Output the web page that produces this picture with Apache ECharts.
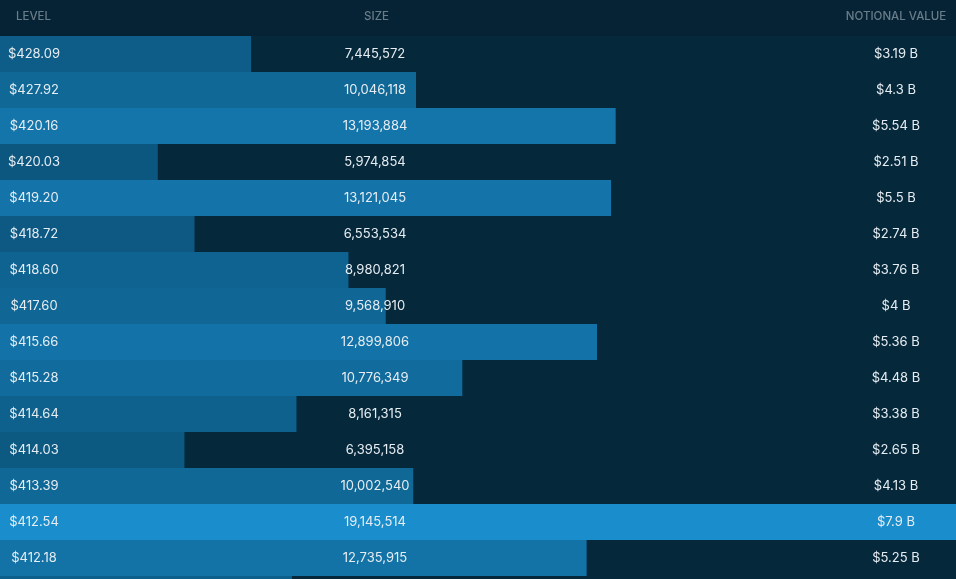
<!DOCTYPE html>
<html>
<head>
<meta charset="utf-8">
<script src="https://cdn.jsdelivr.net/npm/echarts@6/dist/echarts.min.js"></script>
<style>
html,body{margin:0;padding:0;background:#06283b;}
#chart{width:956px;height:579px;}
</style>
</head>
<body>
<div id="chart"></div>
<script>
// ---- data ----
const headers = ['LEVEL', 'SIZE', 'NOTIONAL VALUE'];
const levels = [428.09, 427.92, 420.16, 420.03, 419.20, 418.72, 418.60, 417.60, 415.66, 415.28, 414.64, 414.03, 413.39, 412.54, 412.18, null];
const sizes = [7445572, 10046118, 13193884, 5974854, 13121045, 6553534, 8980821, 9568910, 12899806, 10776349, 8161315, 6395158, 10002540, 19145514, 12735915, 8090000];
const notionalB = [3.19, 4.3, 5.54, 2.51, 5.5, 2.74, 3.76, 4, 5.36, 4.48, 3.38, 2.65, 4.13, 7.9, 5.25, null];

// ---- chart ----
const xMin = 3487000, xMax = 18560000;
const chart = echarts.init(document.getElementById('chart'), null, {renderer: 'canvas'});
const cats = levels.map((l, i) => String(i));
const barData = sizes.map((s, i) => [s, i]);
const textData = sizes.map((s, i) => [xMin, i]);
const FONT = 'Inter, "Noto Sans", sans-serif';
const fmtLevel = v => v == null ? '' : '$' + v.toFixed(2);
const fmtSize = (v, i) => levels[i] == null ? '' : v.toLocaleString('en-US');
const fmtNot = v => v == null ? '' : '$' + v + ' B';
const colX = [34, 375, 896];

chart.setOption({
  animation: false,
  backgroundColor: '#06283b',
  grid: {left: 0, right: 0, top: 36, height: 36 * sizes.length, containLabel: false, outerBoundsMode: 'none'},
  xAxis: {type: 'value', min: xMin, max: xMax, show: false},
  yAxis: {type: 'category', data: cats, inverse: true, show: false},
  visualMap: {
    type: 'continuous', show: false, dimension: 0, seriesIndex: 0,
    min: 5974854, max: 19145514,
    inRange: {color: ['#0c5780', '#1a8dcc']}
  },
  graphic: [
    {type: 'rect', left: 0, top: 0, z: 0, shape: {width: 956, height: 36}, style: {fill: '#052335'}},
    {type: 'text', x: colX[0] - 0.5, y: 17, z: 10, style: {text: headers[0], align: 'center', verticalAlign: 'middle', fill: '#6b7c89', font: '500 11.5px ' + FONT}},
    {type: 'text', x: colX[1] + 1.5, y: 17, z: 10, style: {text: headers[1], align: 'center', verticalAlign: 'middle', fill: '#6b7c89', font: '500 11.5px ' + FONT}},
    {type: 'text', x: colX[2], y: 17, z: 10, style: {text: headers[2], align: 'center', verticalAlign: 'middle', fill: '#6b7c89', font: '500 11.5px ' + FONT}}
  ],
  series: [
    {
      type: 'bar',
      data: barData,
      encode: {x: 0, y: 1},
      barWidth: '100%',
      barCategoryGap: 0,
      itemStyle: {borderWidth: 0},
      z: 2
    },
    {
      type: 'custom',
      data: textData,
      encode: {x: 0, y: 1},
      z: 5,
      renderItem: function (params, api) {
        const i = api.value(1);
        const y = api.coord([api.value(0), i])[1];
        const st = (t, x) => ({
          type: 'text',
          style: {text: t, x: x, y: y, align: 'center', verticalAlign: 'middle', fill: '#e6edf2', font: '13px ' + FONT}
        });
        return {
          type: 'group',
          children: [
            st(fmtLevel(levels[i]), colX[0]),
            st(fmtSize(sizes[i], i), colX[1]),
            st(fmtNot(notionalB[i]), colX[2])
          ]
        };
      }
    }
  ]
});
</script>
</body>
</html>
